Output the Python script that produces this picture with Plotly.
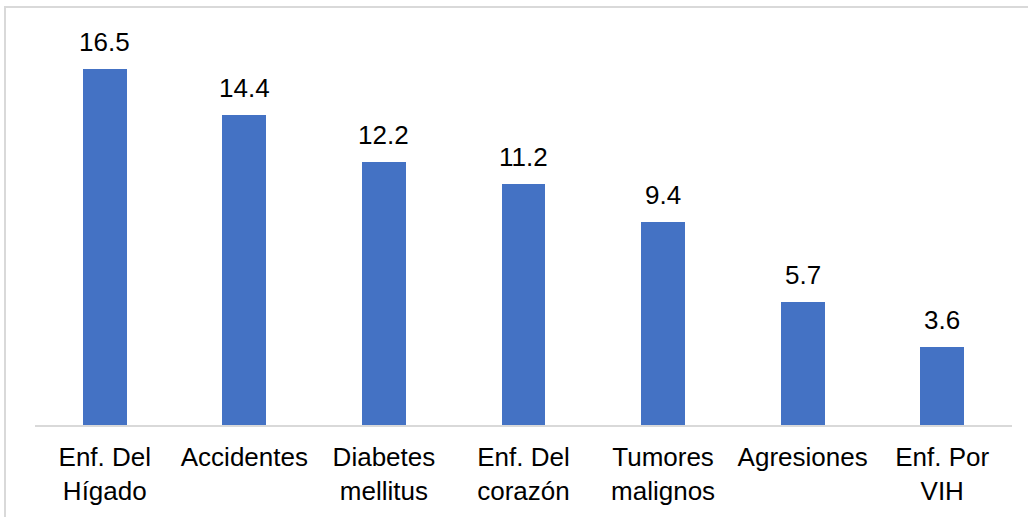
import plotly.graph_objects as go

categories = ["Enf. Del<br>Hígado", "Accidentes", "Diabetes<br>mellitus",
              "Enf. Del<br>corazón", "Tumores<br>malignos", "Agresiones",
              "Enf. Por<br>VIH"]
values = [16.5, 14.4, 12.2, 11.2, 9.4, 5.7, 3.6]
value_labels = ["16.5", "14.4", "12.2", "11.2", "9.4", "5.7", "3.6"]

FONT = "Liberation Sans, Arial, sans-serif"
BAR = "#4472C4"

fig = go.Figure(go.Bar(
    x=categories, y=values, marker=dict(color=BAR, line=dict(width=0)),
    width=0.315, hoverinfo="skip",
))

# value labels above each bar
for c, v, t in zip(categories, values, value_labels):
    fig.add_annotation(x=c, y=v, text=t, showarrow=False, yanchor="bottom",
                       yshift=10, font=dict(family=FONT, size=26, color="#000000"))

# light gray chart frame
fig.add_shape(type="rect", xref="paper", yref="paper",
              x0=-0.0307, x1=1.2, y0=-0.5, y1=1.0773,
              line=dict(color="#D9D9D9", width=2), fillcolor="rgba(0,0,0,0)",
              layer="below")

fig.update_layout(
    width=1028, height=517,
    margin=dict(l=35, r=16, t=37, b=92),
    paper_bgcolor="white", plot_bgcolor="white",
    showlegend=False,
    font=dict(family=FONT, size=26, color="#000000"),
    xaxis=dict(showline=True, linecolor="#D9D9D9", linewidth=2,
               ticks="", showgrid=False, tickfont=dict(size=26),
               ticklabelstandoff=8),
    yaxis=dict(range=[0, 18], visible=False, showgrid=False),
    bargap=0,
)

fig.write_html("out.html")
